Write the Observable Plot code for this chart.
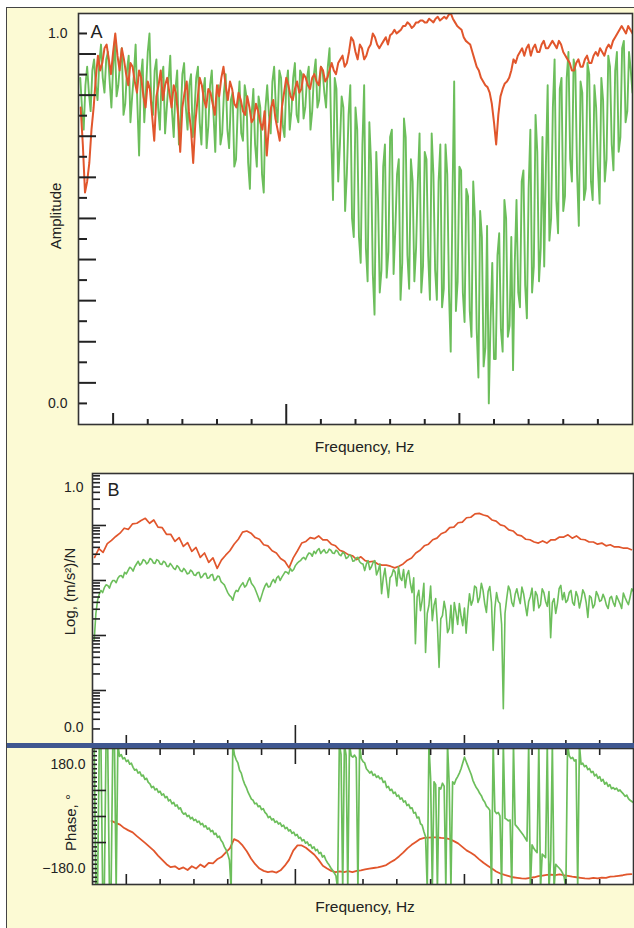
<!DOCTYPE html>
<html><head><meta charset="utf-8">
<script src="https://cdn.jsdelivr.net/npm/d3@7"></script>
<script src="https://cdn.jsdelivr.net/npm/@observablehq/plot@0.6"></script>
<style>
html,body{margin:0;padding:0;background:#fff;}
#fig{position:relative;width:634px;height:928px;overflow:hidden;background:#fff;}
#bg{position:absolute;left:6px;top:7px;right:0;bottom:0;background:#fcfad4;border-left:1.5px solid #444;border-top:1.5px solid #444;}
.panel{position:absolute;left:0;}
#band{position:absolute;left:7px;top:743px;width:627px;height:5px;background:#3f5790;z-index:5;}
</style></head><body>
<div id="fig"><div id="bg"></div><div id="pA" class="panel" style="top:0"></div><div id="pB" class="panel" style="top:460px"></div><div id="pP" class="panel" style="top:735px"></div><div id="band"></div></div>
<script>
// ---------- data ----------
const freqDomain = [0, 1600];               // Hz
const xTicksMinor = [200,300,400,500,700,800,900,1000,1200,1300,1400,1500];
const xTicksMid = [100, 1100];
const xTicksMajor = [600];

// Panel A – amplitude spectra
const ampOrangeF0 = 6.25, ampOrangeStep = 6.25;
const ampOrange = [
0.80,0.70,0.57,0.60,0.65,0.74,0.80,0.88,0.94,0.90,0.92,0.96,0.97,0.93,0.89,0.95,1.00,0.94,0.90,0.96,
0.93,0.89,0.86,0.92,0.91,0.87,0.84,0.90,0.88,0.83,0.80,0.87,0.85,0.78,0.71,0.83,0.86,0.90,0.82,0.86,
0.88,0.84,0.80,0.86,0.84,0.78,0.68,0.80,0.84,0.87,0.79,0.74,0.65,0.76,0.82,0.88,0.86,0.82,0.80,0.85,
0.84,0.81,0.78,0.86,0.83,0.88,0.91,0.86,0.82,0.87,0.85,0.81,0.80,0.84,0.82,0.79,0.78,0.83,0.80,0.76,
0.77,0.81,0.79,0.76,0.74,0.79,0.67,0.75,0.80,0.82,0.77,0.74,0.71,0.80,0.84,0.88,0.86,0.83,0.82,0.85,
0.87,0.84,0.85,0.89,0.88,0.86,0.85,0.88,0.89,0.87,0.86,0.91,0.90,0.87,0.88,0.90,0.92,0.90,0.89,0.92,
0.93,0.94,0.91,0.92,0.95,0.99,0.98,0.95,0.93,0.97,0.96,0.93,0.94,0.96,0.97,1.00,0.99,0.97,0.96,0.97,
0.98,0.99,0.97,0.995,1.00,1.01,1.00,1.005,1.01,1.02,1.02,1.03,1.025,1.015,1.02,1.03,1.03,1.035,1.035,1.03,
1.03,1.04,1.035,1.03,1.04,1.045,1.035,1.04,1.045,1.04,1.05,1.055,1.04,1.03,1.02,1.015,1.01,0.99,0.98,0.975,
0.97,0.95,0.93,0.91,0.90,0.88,0.87,0.86,0.855,0.84,0.81,0.76,0.70,0.78,0.83,0.85,0.865,0.87,0.88,0.90,
0.93,0.92,0.94,0.95,0.96,0.94,0.96,0.97,0.94,0.96,0.97,0.95,0.95,0.97,0.98,0.96,0.96,0.97,0.98,0.97,
0.96,0.98,0.97,0.95,0.94,0.93,0.92,0.90,0.90,0.92,0.93,0.91,0.91,0.93,0.94,0.92,0.92,0.94,0.95,0.94,
0.96,0.95,0.94,0.96,0.97,0.96,0.98,0.99,1.00,1.01,1.02,1.01,1.00,1.02,1.01,1.00];
const ampGreenF0 = 5, ampGreenStep = 5;
const ampGreen = [
0.88,0.80,0.74,0.86,0.91,0.84,0.79,0.90,0.93,0.86,0.82,0.92,0.97,0.88,0.84,0.93,0.95,0.87,0.80,0.91,
0.98,0.83,0.86,0.92,0.96,0.78,0.81,0.90,0.94,0.76,0.83,0.89,0.97,0.81,0.67,0.88,0.93,0.76,0.85,0.95,
1.00,0.82,0.78,0.90,0.93,0.80,0.74,0.88,0.91,0.73,0.80,0.87,0.94,0.79,0.72,0.85,0.90,0.70,0.77,0.89,
0.92,0.80,0.74,0.86,0.89,0.72,0.79,0.88,0.91,0.76,0.70,0.84,0.88,0.69,0.75,0.86,0.90,0.78,0.68,0.85,
0.86,0.70,0.73,0.84,0.89,0.74,0.69,0.82,0.84,0.64,0.66,0.80,0.87,0.73,0.71,0.86,0.83,0.65,0.58,0.78,
0.85,0.70,0.64,0.83,0.80,0.62,0.57,0.80,0.86,0.78,0.73,0.87,0.91,0.80,0.76,0.90,0.88,0.75,0.72,0.86,
0.90,0.74,0.79,0.88,0.92,0.78,0.76,0.90,0.89,0.77,0.80,0.88,0.91,0.74,0.79,0.89,0.93,0.80,0.82,0.91,
0.90,0.84,0.80,0.91,0.96,0.72,0.55,0.88,0.85,0.60,0.70,0.83,0.80,0.52,0.62,0.78,0.86,0.50,0.45,0.80,
0.74,0.45,0.38,0.70,0.86,0.42,0.33,0.76,0.65,0.35,0.24,0.68,0.55,0.30,0.36,0.64,0.70,0.34,0.41,0.72,
0.74,0.35,0.47,0.62,0.66,0.28,0.38,0.77,0.72,0.40,0.31,0.66,0.60,0.33,0.42,0.60,0.73,0.30,0.37,0.68,
0.66,0.40,0.28,0.73,0.62,0.36,0.28,0.60,0.70,0.26,0.31,0.70,0.62,0.30,0.14,0.55,0.87,0.25,0.33,0.64,
0.63,0.30,0.22,0.58,0.56,0.25,0.18,0.60,0.50,0.20,0.07,0.52,0.45,0.10,0.15,0.48,0.00,0.22,0.38,0.12,
0.12,0.40,0.46,0.20,0.14,0.55,0.50,0.18,0.21,0.45,0.09,0.38,0.55,0.30,0.26,0.60,0.63,0.32,0.23,0.58,
0.74,0.30,0.37,0.78,0.68,0.33,0.42,0.72,0.37,0.65,0.86,0.44,0.50,0.80,0.93,0.55,0.46,0.85,0.88,0.52,
0.56,0.88,0.95,0.66,0.60,0.93,0.90,0.62,0.48,0.87,0.84,0.55,0.58,0.92,0.89,0.60,0.55,0.86,0.80,0.64,
0.54,0.88,0.82,0.60,0.66,0.94,0.91,0.70,0.63,0.90,0.95,0.68,0.72,0.96,0.98,0.76,0.79,0.95,0.90,0.84];
const ampTickLabels = ["0.0", "1.0"];
const ampTickValues = [0, 1];

// Panel B – log accelerance (decades)
const logOrangeF0 = 6.25, logOrangeStep = 12.5;
const logOrange = [
3.42,3.58,3.51,3.67,3.73,3.80,3.86,3.95,3.93,4.03,
4.04,4.09,4.13,4.04,4.10,3.97,3.96,3.84,3.84,3.71,
3.78,3.62,3.69,3.53,3.60,3.42,3.50,3.33,3.41,3.22,
3.37,3.46,3.54,3.66,3.75,3.88,3.90,3.86,3.78,3.75,
3.65,3.63,3.54,3.50,3.40,3.35,3.23,3.41,3.54,3.68,
3.71,3.78,3.76,3.81,3.74,3.74,3.66,3.63,3.55,3.52,
3.47,3.45,3.38,3.43,3.36,3.34,3.35,3.30,3.28,3.28,
3.26,3.23,3.26,3.30,3.37,3.41,3.50,3.55,3.63,3.66,
3.74,3.77,3.85,3.88,3.96,3.97,4.05,4.06,4.14,4.15,
4.21,4.22,4.19,4.17,4.10,4.08,4.01,3.99,3.92,3.90,
3.83,3.81,3.75,3.74,3.70,3.68,3.72,3.68,3.74,3.74,
3.79,3.79,3.83,3.77,3.81,3.75,3.74,3.70,3.70,3.66,
3.68,3.63,3.65,3.61,3.61,3.59,3.59,3.56];
const logGreenF0 = 5, logGreenStep = 5;
const logGreen = [
1.91,2.40,2.64,2.75,2.82,2.78,2.87,2.92,2.91,2.86,2.95,3.00,3.00,2.96,3.04,3.08,3.09,3.05,3.15,3.12,
3.18,3.24,3.22,3.17,3.25,3.30,3.35,3.28,3.31,3.38,3.36,3.30,3.33,3.40,3.38,3.32,3.31,3.38,3.36,3.30,
3.29,3.35,3.33,3.26,3.25,3.31,3.27,3.22,3.20,3.27,3.24,3.18,3.16,3.22,3.18,3.12,3.13,3.19,3.16,3.10,
3.09,3.14,3.15,3.05,3.07,3.12,3.13,3.04,3.05,3.10,3.11,3.00,3.02,3.08,3.07,2.98,2.95,2.92,2.85,2.78,
2.73,2.70,2.64,2.76,2.82,2.80,2.87,2.92,2.96,2.88,2.91,2.99,3.05,2.95,2.91,2.86,2.78,2.70,2.62,2.72,
2.82,2.90,2.95,2.88,2.89,2.97,3.02,2.96,3.05,3.08,3.00,3.06,3.11,3.16,3.15,3.12,3.22,3.17,3.20,3.27,
3.31,3.34,3.36,3.40,3.42,3.38,3.45,3.50,3.49,3.44,3.53,3.49,3.55,3.58,3.49,3.53,3.56,3.50,3.51,3.57,
3.55,3.50,3.49,3.55,3.53,3.47,3.45,3.51,3.49,3.40,3.42,3.47,3.44,3.35,3.36,3.41,3.42,3.34,3.31,3.30,
3.18,3.30,3.36,3.20,3.25,3.33,3.36,3.10,3.18,3.30,2.76,3.05,3.22,2.95,2.69,3.05,3.09,3.20,3.15,2.90,
3.25,3.05,3.00,3.20,2.87,3.10,3.18,2.95,2.78,3.05,1.85,2.70,2.82,2.45,2.64,2.95,1.69,2.40,2.55,2.90,
2.27,2.55,2.67,2.20,1.42,2.30,2.36,2.62,2.45,2.05,2.13,2.55,2.04,2.60,2.42,2.20,2.58,2.35,2.18,2.50,
2.04,2.45,2.76,2.55,2.64,2.90,2.87,2.60,2.69,2.95,2.82,2.58,2.42,2.80,2.89,2.60,1.73,2.50,2.78,2.62,
2.58,2.20,0.67,2.40,2.67,2.90,2.82,2.60,2.53,2.75,2.85,2.70,2.58,2.88,2.76,2.55,2.36,2.62,2.71,2.86,
2.45,2.80,2.73,2.50,2.56,2.85,2.78,2.62,2.53,2.80,1.96,2.60,2.67,2.40,2.58,2.85,2.91,2.65,2.78,2.60,
2.64,2.78,2.82,2.60,2.55,2.80,2.71,2.50,2.64,2.83,2.76,2.60,2.33,2.72,2.69,2.50,2.56,2.80,2.73,2.62,
2.64,2.75,2.67,2.55,2.49,2.68,2.71,2.60,2.53,2.72,2.65,2.58,2.49,2.77,2.69,2.62,2.56,2.70,2.85,2.80];
const logDomain = [0, 4.945];
const logMajorTicks = [1, 2, 3, 4];
const logTickLabels = ["0.0", "1.0"];
const logTickValues = [0.33, 4.69];

// Phase panel (degrees; ±250 marks a wrap that runs off the frame)
const phaseOrangeF0 = 56.25, phaseOrangeStep = 12.5;
const phaseOrange = [
-15,-22,-28,-40,-48,-55,-68,-80,-92,-105,
-118,-135,-150,-165,-175,-172,-182,-176,-185,-172,
-180,-166,-175,-160,-162,-148,-140,-125,-110,-78,
-85,-100,-120,-145,-165,-180,-188,-192,-190,-194,
-186,-170,-150,-118,-100,-100,-108,-120,-132,-150,
-170,-180,-188,-192,-190,-192,-189,-192,-188,-186,
-183,-180,-178,-176,-172,-168,-158,-150,-138,-125,
-110,-98,-88,-78,-74,-73,-72,-72,-74,-75,
-78,-85,-93,-105,-117,-125,-135,-148,-160,-170,
-180,-190,-197,-202,-206,-210,-212,-214,-215,-212,
-210,-206,-204,-202,-201,-203,-200,-203,-205,-208,
-210,-212,-214,-215,-212,-214,-211,-212,-208,-207,
-205,-203,-200,-199];
const phaseGreenF0 = 5, phaseGreenStep = 5;
const phaseGreen = [
250,-250,-250,250,250,-250,-250,250,250,-250,
-250,250,250,-250,250,208,214,199,203,190,
195,181,184,170,160,163,150,154,140,143,
128,132,118,113,100,104,92,96,83,87,
74,78,65,69,54,58,44,49,36,40,
26,30,15,8,12,0,4,-8,-3,-14,
-10,-20,-16,-28,-24,-36,-32,-44,-40,-52,
-48,-62,-58,-72,-68,-82,-90,-105,-115,-130,
-150,-250,250,212,196,185,160,150,128,112,
100,84,72,60,56,44,46,34,37,24,
27,14,8,-4,0,-12,-8,-20,-16,-26,
-22,-34,-30,-42,-38,-50,-46,-58,-54,-66,
-62,-75,-72,-84,-80,-92,-88,-100,-97,-110,
-105,-118,-114,-128,-124,-140,-135,-150,-160,-168,
-178,-186,-195,-205,-250,250,215,-250,250,212,
-250,250,210,205,212,202,-250,250,200,190,
185,165,158,150,156,142,146,135,140,130,
134,118,122,100,104,90,94,80,84,70,
74,60,64,50,54,38,42,28,30,12,
14,-5,-2,-25,-30,-52,-70,-250,250,130,
-250,120,110,-250,100,95,115,105,-250,250,
110,-250,120,112,128,138,150,165,185,205,
190,175,160,145,125,112,100,92,80,72,
58,50,36,30,22,-250,250,18,10,14,
2,-250,250,-6,-10,-15,-12,-250,250,-28,
-35,-42,-50,-58,-66,-75,-85,250,-250,-98,
-110,-118,-125,250,-250,-130,-136,-142,250,-250,
-150,250,-250,-165,-172,-178,-185,-195,-210,-250,
250,210,200,204,192,196,-250,250,180,184,
172,176,162,166,152,156,140,146,132,138,
122,128,112,118,104,110,96,100,94,98,
88,92,84,78,70,74,62,56,52,48];
const phaseDomain = [-235, 235];
const phaseTickValues = [-180, 180];
const phaseTickLabels = ["\u2212180.0", "180.0"];
const phaseMinorTicks = [-225,-210,-195,-180,-165,-150,-135,-120,-105,-75,-60,-45,-30,-15,15,30,45,60,75,105,120,135,150,165,180,195,210,225];
const phaseMajorTicks = [-90, 0, 90];

// ---------- helpers ----------
const ORANGE = "#e1562c", GREEN = "#6cbe5b", INK = "#333";
const FONT = "'Liberation Sans', Arial, Helvetica, sans-serif";
const rows = (f0, step, vals) => vals.map((v, i) => ({f: f0 + i * step, v}));
const blank = () => "";
const style = {background: "transparent", fontFamily: FONT, fontSize: "14px", overflow: "visible", color: "#222"};
const xTickAxes = (anchor, sizes, sw) => [
  Plot.axisX({anchor, ticks: xTicksMinor, tickSize: -sizes[0], tickFormat: blank, label: null, strokeWidth: sw}),
  Plot.axisX({anchor, ticks: xTicksMid, tickSize: -sizes[1], tickFormat: blank, label: null, strokeWidth: sw}),
  Plot.axisX({anchor, ticks: xTicksMajor, tickSize: -sizes[2], tickFormat: blank, label: null, strokeWidth: sw})
];
const logMinorTicks = [];
for (let n = 0; n < 5; n++) for (let k = 2; k <= 9; k++) { const t = n + Math.log10(k); if (t <= logDomain[1]) logMinorTicks.push(t); }

// ---------- Panel A ----------
const aTicks = d3.range(0, 19).map(k => k / 18);
const plotA = Plot.plot({
  width: 634, height: 460, marginLeft: 78, marginRight: 2, marginTop: 13, marginBottom: 36,
  style, x: {domain: freqDomain}, y: {domain: [-0.057, 1.054]},
  marks: [
    Plot.frame({fill: "white"}),
    Plot.line(rows(ampGreenF0, ampGreenStep, ampGreen), {x: "f", y: "v", stroke: GREEN, strokeWidth: 1.9, clip: true}),
    Plot.line(rows(ampOrangeF0, ampOrangeStep, ampOrange), {x: "f", y: "v", stroke: ORANGE, strokeWidth: 2, clip: true}),
    ...xTickAxes("bottom", [5, 11, 20], 2),
    Plot.axisY({anchor: "left", ticks: aTicks.filter((d, i) => i % 2 === 0), tickSize: -9, tickFormat: blank, label: null, strokeWidth: 2}),
    Plot.axisY({anchor: "left", ticks: aTicks.filter((d, i) => i % 2 === 1), tickSize: -18, tickFormat: blank, label: null, strokeWidth: 2}),
    Plot.axisY({anchor: "left", ticks: ampTickValues, tickSize: 0, tickPadding: 11, tickFormat: (d, i) => ampTickLabels[i], label: null, fontSize: 14}),
    Plot.frame({stroke: INK, strokeWidth: 1.6}),
    Plot.text(["A"], {text: d => d, frameAnchor: "top-left", textAnchor: "start", lineAnchor: "top", dx: 12, dy: 12, fontSize: 18}),
    Plot.text(["Amplitude"], {text: d => d, frameAnchor: "left", rotate: -90, textAnchor: "middle", lineAnchor: "middle", dx: -22, dy: -3, fontSize: 15}),
    Plot.text(["Frequency, Hz"], {text: d => d, frameAnchor: "bottom", textAnchor: "middle", lineAnchor: "middle", dx: 9, dy: 23, fontSize: 15.5})
  ]
});
document.getElementById("pA").append(plotA);

// ---------- Panel B ----------
const plotB = Plot.plot({
  width: 634, height: 287, marginLeft: 92, marginRight: 1, marginTop: 13, marginBottom: 2,
  style, x: {domain: freqDomain}, y: {domain: logDomain},
  marks: [
    Plot.frame({fill: "white"}),
    Plot.line(rows(logOrangeF0, logOrangeStep, logOrange), {x: "f", y: "v", stroke: ORANGE, strokeWidth: 1.7, clip: true}),
    Plot.line(rows(logGreenF0, logGreenStep, logGreen), {x: "f", y: "v", stroke: GREEN, strokeWidth: 1.6, clip: true}),
    ...xTickAxes("bottom", [5, 10, 20], 1.6),
    Plot.axisY({anchor: "left", ticks: logMinorTicks, tickSize: -8, tickFormat: blank, label: null, strokeWidth: 1.6}),
    Plot.axisY({anchor: "left", ticks: logMajorTicks, tickSize: -14, tickFormat: blank, label: null, strokeWidth: 1.6}),
    Plot.axisY({anchor: "left", ticks: logTickValues, tickSize: 0, tickPadding: 9, tickFormat: (d, i) => logTickLabels[i], label: null, fontSize: 14}),
    Plot.frame({stroke: INK, strokeWidth: 1.6}),
    Plot.text(["B"], {text: d => d, frameAnchor: "top-left", textAnchor: "start", lineAnchor: "top", dx: 15, dy: 10, fontSize: 18}),
    Plot.text(["Log, (m/s\u00b2)/N"], {text: d => d, frameAnchor: "left", rotate: -90, textAnchor: "middle", lineAnchor: "middle", dx: -22, dy: -18, fontSize: 15})
  ]
});
document.getElementById("pB").append(plotB);

// ---------- Phase panel ----------
const plotP = Plot.plot({
  width: 634, height: 190, marginLeft: 92, marginRight: 1, marginTop: 13, marginBottom: 41,
  style, x: {domain: freqDomain}, y: {domain: phaseDomain},
  marks: [
    Plot.frame({fill: "white"}),
    Plot.line(rows(phaseOrangeF0, phaseOrangeStep, phaseOrange), {x: "f", y: "v", stroke: ORANGE, strokeWidth: 1.8, clip: true}),
    Plot.line(rows(phaseGreenF0, phaseGreenStep, phaseGreen), {x: "f", y: "v", stroke: GREEN, strokeWidth: 1.7, clip: true}),
    ...xTickAxes("bottom", [5, 10, 15], 1.6),
    ...xTickAxes("top", [6, 6, 15], 1.6),
    Plot.axisY({anchor: "left", ticks: phaseMinorTicks, tickSize: -5, tickFormat: blank, label: null, strokeWidth: 1.6}),
    Plot.axisY({anchor: "left", ticks: phaseMajorTicks, tickSize: -14, tickFormat: blank, label: null, strokeWidth: 1.6}),
    Plot.axisY({anchor: "left", ticks: phaseTickValues, tickSize: 0, tickPadding: 7, tickFormat: (d, i) => phaseTickLabels[i], label: null, fontSize: 14}),
    Plot.frame({stroke: INK, strokeWidth: 1.6}),
    Plot.text(["Phase, \u00b0"], {text: d => d, frameAnchor: "left", rotate: -90, textAnchor: "middle", lineAnchor: "middle", dx: -21, dy: 6, fontSize: 15}),
    Plot.text(["Frequency, Hz"], {text: d => d, frameAnchor: "bottom", textAnchor: "middle", lineAnchor: "middle", dx: 2, dy: 23, fontSize: 15.5})
  ]
});
document.getElementById("pP").append(plotP);
</script>
</body></html>
